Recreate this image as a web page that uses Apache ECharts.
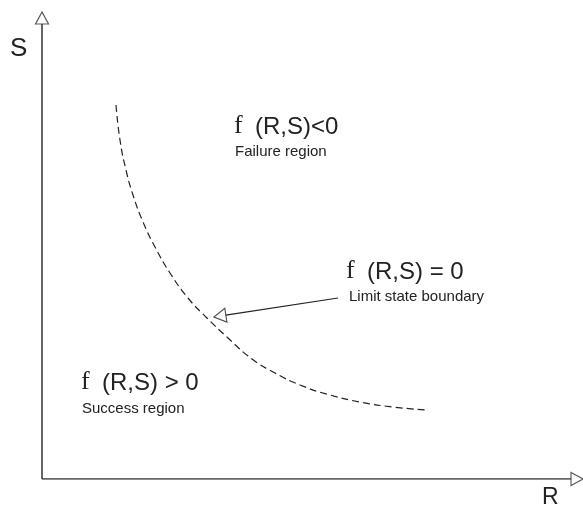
<!DOCTYPE html>
<html>
<head>
<meta charset="utf-8">
<script src="https://cdn.jsdelivr.net/npm/echarts@6/dist/echarts.min.js"></script>
<style>
  html, body { margin: 0; padding: 0; background: #fff; }
  #main { width: 583px; height: 508px; }
</style>
</head>
<body>
<div id="main"></div>
<script>
// limit state curve g(R,S)=0 (R, S units)
var curveR = [74, 78, 84, 91, 101, 113, 128, 146, 165, 186, 210, 233, 258, 288, 318, 351, 385];
var curveS = [374, 339, 309, 284, 257, 232, 206, 181, 161, 141, 120, 106, 94, 84, 77, 72, 69];
// pointer from the label to the boundary
var arrowFrom = [296, 181];
var arrowTo = [172, 162];
// axis extents
var axisEndR = 530;
var axisEndS = 455;

var lineColor = '#333';
var curveData = curveR.map(function (r, i) { return [r, curveS[i]]; });

// arrow head angle (data units are 1px each here)
var dx = arrowTo[0] - arrowFrom[0];
var dy = arrowTo[1] - arrowFrom[1];
var arrowRot = Math.atan2(dy, dx) * 180 / Math.PI - 90;
var headLen = 12;
var len = Math.sqrt(dx * dx + dy * dy);
var headCenter = [arrowTo[0] - dx / len * headLen / 2, arrowTo[1] - dy / len * headLen / 2];
var shaftEnd = [arrowTo[0] - dx / len * headLen, arrowTo[1] - dy / len * headLen];

var chart = echarts.init(document.getElementById('main'));

function bigLabel(x, y, rest) {
  return [
    { type: 'text', left: x, top: y - 2, style: { text: 'f', font: '26px "Liberation Serif"', fill: '#222' } },
    { type: 'text', left: x + 21, top: y, style: { text: rest, font: '24px "Liberation Sans"', fill: '#222' } }
  ];
}
function smallLabel(x, y, t) {
  return { type: 'text', left: x, top: y, style: { text: t, font: '15px "Liberation Sans"', fill: '#222' } };
}

var graphics = []
  .concat(bigLabel(234, 115, '(R,S)<0'))
  .concat([smallLabel(235, 144, 'Failure region')])
  .concat(bigLabel(346, 260, '(R,S) = 0'))
  .concat([smallLabel(349, 289, 'Limit state boundary')])
  .concat(bigLabel(81, 371, '(R,S) > 0'))
  .concat([smallLabel(82, 401, 'Success region')])
  .concat([
    { type: 'text', left: 10, top: 36, style: { text: 'S', font: '26px "Liberation Sans"', fill: '#222' } },
    { type: 'text', left: 542, top: 486, style: { text: 'R', font: '23px "Liberation Sans"', fill: '#222' } }
  ]);

chart.setOption({
  animation: false,
  backgroundColor: '#fff',
  grid: { left: 42, top: 0, width: 541, height: 479 },
  xAxis: { type: 'value', min: 0, max: 541, show: false },
  yAxis: { type: 'value', min: 0, max: 479, show: false },
  graphic: graphics,
  series: [
    {
      type: 'line', data: [[0, 0], [0, axisEndS]], symbol: 'none',
      lineStyle: { color: lineColor, width: 1.5 }, z: 3
    },
    {
      type: 'line', data: [[0, 0], [axisEndR, 0]], symbol: 'none',
      lineStyle: { color: lineColor, width: 1.5 }, z: 3
    },
    {
      type: 'scatter', symbol: 'triangle',
      data: [
        { value: [0, axisEndS + 6], symbolRotate: 0 },
        { value: [axisEndR + 5, 0], symbolRotate: -90 }
      ],
      symbolSize: [13, 12],
      itemStyle: { color: '#fff', borderColor: lineColor, borderWidth: 1.2 }, z: 4
    },
    {
      type: 'line', data: curveData, smooth: true, symbol: 'none',
      lineStyle: { color: '#222', width: 1.2, type: [7, 4] }
    },
    {
      type: 'line', data: [arrowFrom, shaftEnd], symbol: 'none',
      lineStyle: { color: '#222', width: 1.2 }
    },
    {
      type: 'scatter', symbol: 'triangle',
      data: [{ value: headCenter, symbolRotate: arrowRot }],
      symbolSize: [14, 12],
      itemStyle: { color: '#fff', borderColor: '#222', borderWidth: 1.2 }
    }
  ]
});
</script>
</body>
</html>
